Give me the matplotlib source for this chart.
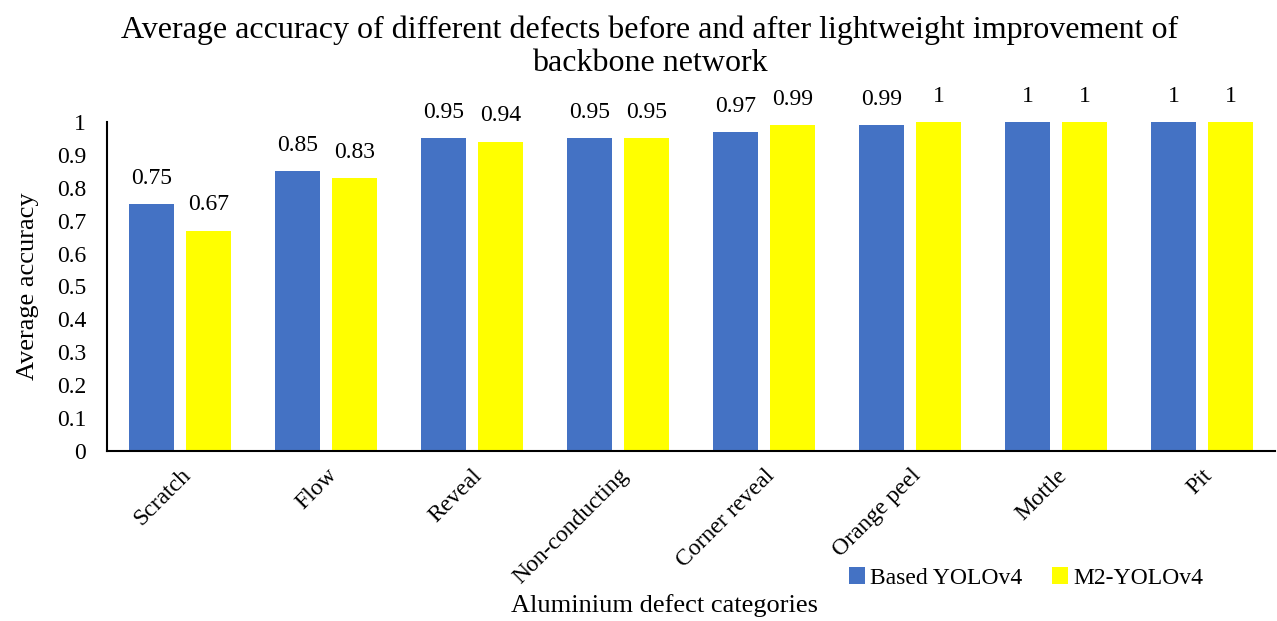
import matplotlib
matplotlib.use("Agg")
import matplotlib.pyplot as plt
import numpy as np

categories = ["Scratch", "Flow", "Reveal", "Non-conducting", "Corner reveal",
              "Orange peel", "Mottle", "Pit"]
based_yolov4 = [0.75, 0.85, 0.95, 0.95, 0.97, 0.99, 1, 1]
m2_yolov4 = [0.67, 0.83, 0.94, 0.95, 0.99, 1, 1, 1]
series_names = ["Based YOLOv4", "M2-YOLOv4"]
yticks = [0, 0.1, 0.2, 0.3, 0.4, 0.5, 0.6, 0.7, 0.8, 0.9, 1]
ytick_labels = ["0", "0.1", "0.2", "0.3", "0.4", "0.5", "0.6", "0.7", "0.8", "0.9", "1"]

plt.rcParams['font.family'] = ['Liberation Serif', 'DejaVu Serif']

fig = plt.figure(figsize=(12.77, 6.21), dpi=100)
ax = fig.add_axes([107/1277, 1 - 451/621, (1275-107)/1277, (451-122)/621])

x = np.arange(len(categories))
w = 0.31
off = 0.195
b1 = ax.bar(x - off, based_yolov4, w, color="#4472C4", label=series_names[0])
b2 = ax.bar(x + off, m2_yolov4, w, color="#FFFF00", label=series_names[1])

def fmt(v):
    return "1" if v == 1 else f"{v:g}"

for bars, vals in ((b1, based_yolov4), (b2, m2_yolov4)):
    for r, v in zip(bars, vals):
        ax.annotate(fmt(v), (r.get_x() + r.get_width()/2, v), xytext=(0, 11),
                    textcoords="offset points", ha="center", va="bottom", fontsize=17)

ax.set_xlim(-0.5, len(categories) - 0.5)
ax.set_ylim(0, 1)
ax.set_yticks(yticks)
ax.set_yticklabels(ytick_labels, fontsize=17)
ax.set_xticks(x)
ax.set_xticklabels(categories, rotation=45, ha="right", rotation_mode="anchor", fontsize=17)
ax.tick_params(axis="y", length=0, pad=15)
ax.tick_params(axis="x", length=0, pad=10)
for s in ("top", "right"):
    ax.spines[s].set_visible(False)
ax.spines["left"].set_linewidth(1.5)
ax.spines["bottom"].set_linewidth(1.5)

ax.set_ylabel("Average accuracy", fontsize=19, labelpad=13)
fig.text(665/1277, 1 - 606/621, "Aluminium defect categories", ha="center", va="center", fontsize=19)
fig.text(650/1277, 1 - 47/621,
         "Average accuracy of different defects before and after lightweight improvement of\nbackbone network",
         ha="center", va="center", fontsize=23, linespacing=1.18)

fig.legend(loc="center", bbox_to_anchor=(1026/1277, 1 - 578/621), ncol=2, frameon=False,
           fontsize=17, handlelength=0.7, handleheight=0.7, handletextpad=0.2, columnspacing=1.25)

fig.savefig("out.png", dpi=100)
